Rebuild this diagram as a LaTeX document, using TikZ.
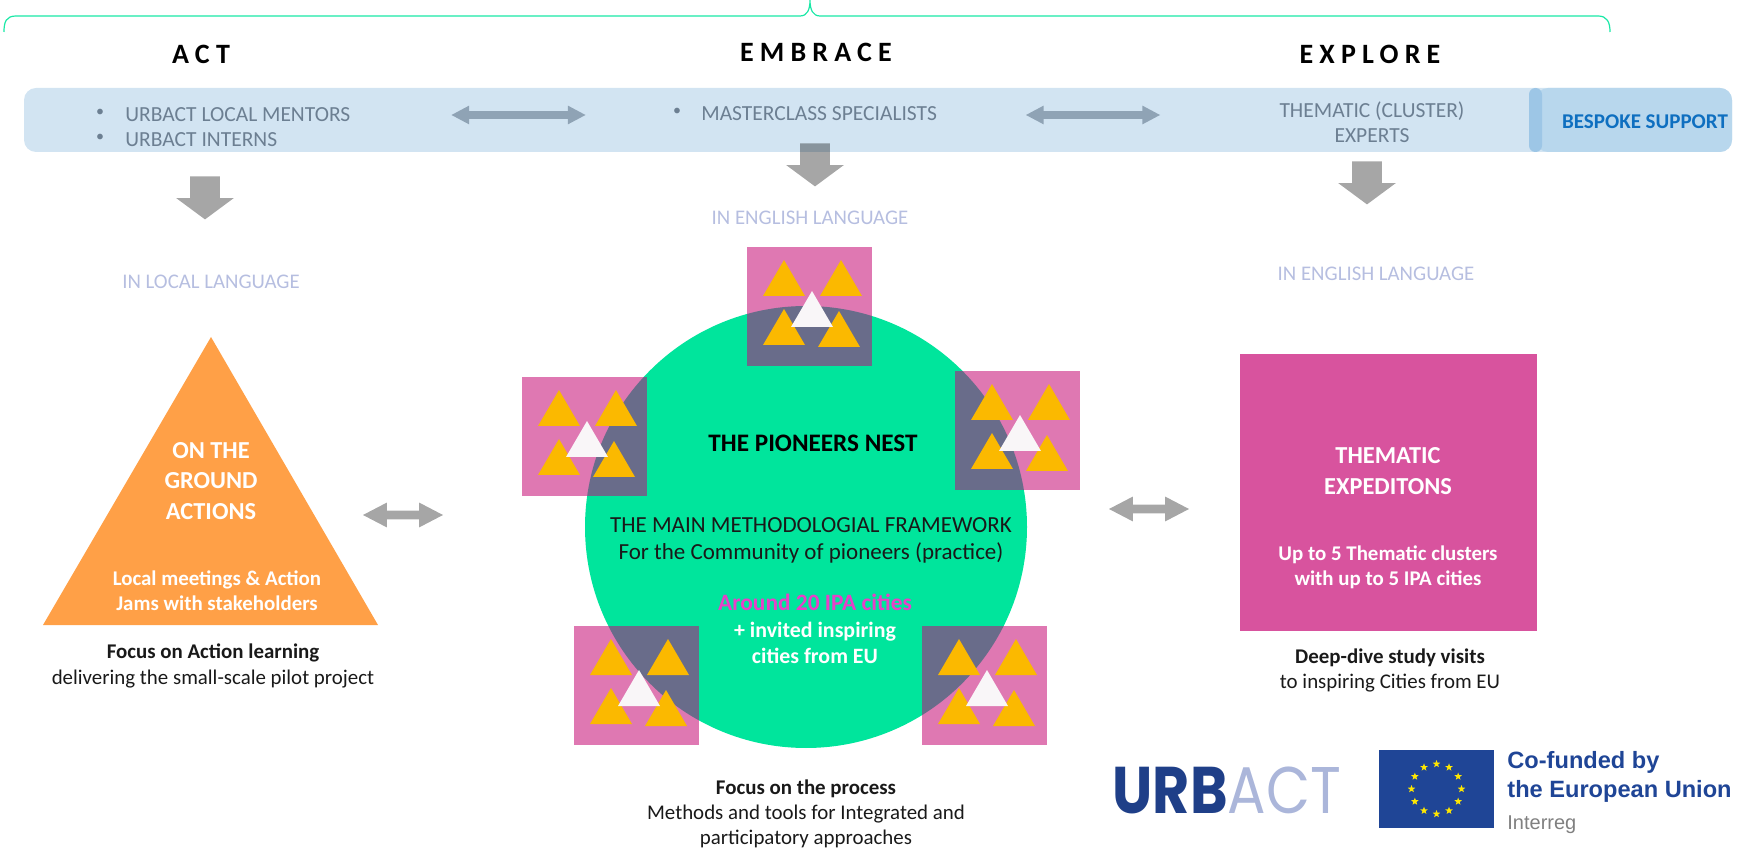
\documentclass[tikz,border=0pt]{standalone}
\usepackage{fontspec}
\setmainfont{Carlito}
\newfontfamily\spacedfont[LetterSpace=22]{Carlito}
\newfontfamily\logofont{Poppins}
\newfontfamily\eufont{Liberation Sans}
\usetikzlibrary{shapes.arrows,shapes.geometric}
\definecolor{barblue}{HTML}{D2E4F2}
\definecolor{bespokeblue}{HTML}{B8D7ED}
\definecolor{bespokeedge}{HTML}{9DC6E6}
\definecolor{bespoketext}{HTML}{0E6FC0}
\definecolor{bartext}{HTML}{6C7F92}
\definecolor{bararrowcol}{HTML}{8FA3B5}
\definecolor{langtext}{HTML}{B6BEE0}
\definecolor{nestgreen}{HTML}{00E59C}
\definecolor{squarepink}{HTML}{DF78B2}
\definecolor{squaredark}{HTML}{696C8A}
\definecolor{triangold}{HTML}{FBB900}
\definecolor{triwhite}{HTML}{F9F6F8}
\definecolor{actorange}{HTML}{FFA047}
\definecolor{expedpink}{HTML}{D8539E}
\definecolor{aroundpink}{HTML}{E83FC8}
\definecolor{urbdark}{HTML}{1F3F88}
\definecolor{urblight}{HTML}{ABB6DA}
\definecolor{eublue}{HTML}{1F4596}
\begin{document}
\begin{tikzpicture}[x=0.5pt,y=-0.5pt,
	heading/.style={font=\spacedfont\bfseries\fontsize{14}{16}\selectfont},
	barlabel/.style={text=bartext,inner sep=0pt,font=\fontsize{10.75}{12.5}\selectfont,align=center},
	langlabel/.style={text=langtext,font=\fontsize{10.4}{12}\selectfont},
	caption/.style={font=\fontsize{10.45}{12.6}\selectfont,align=center,text=black!90},
	whitelabel/.style={text=white,font=\bfseries\fontsize{12.2}{15.2}\selectfont,align=center},
	whitebold/.style={text=white,font=\bfseries\fontsize{10.45}{12.7}\selectfont,align=center},
	bararrow/.style={shape=double arrow,fill=bararrowcol,inner xsep=0pt,inner ysep=1.75pt,minimum width=9pt,minimum height=67pt,double arrow head extend=2.75pt,double arrow tip angle=56},
	sidearrow/.style={shape=double arrow,fill=gray!70,inner xsep=0pt,inner ysep=2pt,minimum width=12pt,minimum height=40pt,double arrow head extend=4pt,double arrow tip angle=55},
	downarrow/.style={shape=single arrow,shape border rotate=270,anchor=tail,fill=black,fill opacity=0.35,inner xsep=7.25pt,inner ysep=0pt,minimum width=28.5pt,minimum height=21.5pt,single arrow head extend=7pt,single arrow tip angle=107},
	eustar/.style={shape=star,star points=5,star point ratio=2.4,fill=yellow!90!orange,inner sep=0pt,minimum size=4pt}]
	\useasboundingbox (0,0) rectangle (1739,849);
	\draw[nestgreen!90!white,line width=0.6pt] (4,32) .. controls (4,22) and (6,16) .. (16,16) -- (800,16) .. controls (807,16) and (810,10) .. (810,0) .. controls (810,10) and (813,16) .. (820,16) -- (1598,16) .. controls (1607,16) and (1610,22) .. (1610,32);
	\node[heading] (act) at (201,54) {ACT};
	\node[heading] (embrace) at (816,52) {EMBRACE};
	\node[heading] (explore) at (1370,54) {EXPLORE};

	\fill[barblue,rounded corners=6pt] (24,88) rectangle (1732,152);
	\fill[bespokeblue,rounded corners=6pt] (1536,88) rectangle (1732,152);
	\fill[bespokeedge,rounded corners=3.2pt] (1529,88) rectangle (1542,152);
	\node[barlabel,font=\fontsize{8}{10}\selectfont] (bullet1) at (100,113) {•};
	\node[barlabel,font=\fontsize{8}{10}\selectfont] (bullet2) at (100,138) {•};
	\node[barlabel,anchor=west,align=left] (mentors) at (125,127.5) {URBACT LOCAL MENTORS\\URBACT INTERNS};
	\node[barlabel,font=\fontsize{8}{10}\selectfont] (bullet3) at (677,112) {•};
	\node[barlabel,anchor=west] (masterclass) at (701,114) {MASTERCLASS SPECIALISTS};
	\node[barlabel] (experts) at (1372,122.5) {THEMATIC (CLUSTER)\\EXPERTS};
	\node[barlabel,text=bespoketext,font=\bfseries\fontsize{10.5}{12}\selectfont] (bespoke) at (1645,122) {BESPOKE SUPPORT};
	\node[bararrow] (arrow1) at (518.5,115) {};
	\node[bararrow] (arrow2) at (1093,115) {};

	\node[downarrow] (down1) at (205,176) {};
	\node[downarrow] (down2) at (815,143) {};
	\node[downarrow] (down3) at (1367,161) {};
	\node[langlabel] (lang1) at (211,282) {IN LOCAL LANGUAGE};
	\node[langlabel] (lang2) at (810,218) {IN ENGLISH LANGUAGE};
	\node[langlabel] (lang3) at (1376,274) {IN ENGLISH LANGUAGE};

	\fill[nestgreen] (806,527) circle [radius=221];
	\foreach \sx/\sy in {747/247,522/377,955/371,574/626,922/626} {
		\fill[squarepink] (\sx,\sy) rectangle +(125,119);
		\begin{scope}
			\clip (806,527) circle [radius=221];
			\fill[squaredark] (\sx,\sy) rectangle +(125,119);
		\end{scope}
		\begin{scope}[shift={(\sx,\sy)}]
			\foreach \tx/\ty in {16/13,73/13,16/62,71/64}
				\fill[triangold] (\tx+21,\ty) -- (\tx+42,\ty+36) -- (\tx,\ty+36) -- cycle;
			\fill[triwhite] (65,44) -- (86,80) -- (44,80) -- cycle;
		\end{scope}
	}
	\node[font=\bfseries\fontsize{12.6}{14}\selectfont] (nesttitle) at (813,443) {THE PIONEERS NEST};
	\node[font=\fontsize{11.5}{13.5}\selectfont,align=center,text=black!90] (framework) at (811,540.5) {THE MAIN METHODOLOGIAL FRAMEWORK\\For the Community of pioneers (practice)};
	\node[text=aroundpink,font=\bfseries\fontsize{11.7}{14}\selectfont] (around) at (815,602) {Around 20 IPA cities};
	\node[whitebold,font=\bfseries\fontsize{10.95}{13}\selectfont] (invited) at (815,643) {+ invited inspiring\\cities from EU};
	\node[caption] (process) at (806,814) {\textbf{Focus on the process}\\Methods and tools for Integrated and\\participatory approaches};

	\fill[actorange] (211,337) -- (378,625) -- (43,625) -- cycle;
	\node[whitelabel] (ground) at (211,481) {ON THE\\GROUND\\ACTIONS};
	\node[whitebold] (jams) at (217,590.5) {Local meetings \& Action\\Jams with stakeholders};
	\node[caption] (actfocus) at (213,666) {\textbf{Focus on Action learning}\\delivering the small-scale pilot project};
	\node[sidearrow] (arrow3) at (403,515) {};
	\node[sidearrow] (arrow4) at (1149,509) {};

	\fill[expedpink] (1240,354) rectangle (1537,631);
	\node[whitelabel] (thematic) at (1388,471) {THEMATIC\\EXPEDITONS};
	\node[whitebold] (clusters) at (1388,567) {Up to 5 Thematic clusters\\with up to 5 IPA cities};
	\node[caption] (visits) at (1390,670.5) {\textbf{Deep-dive study visits}\\to inspiring Cities from EU};

	\node[transform shape,xscale=0.865,inner sep=0pt,font=\logofont\fontsize{33}{36}\selectfont] (urbact) at (1227,790) {\textcolor{urbdark}{\bfseries URB}\textcolor{urblight}{ACT}};
	\fill[eublue] (1379,750) rectangle (1494,828);
	\foreach \i in {1,...,12}
		\node[eustar] (star\i) at ({1436.5+25*cos(30*\i)},{789+25*sin(30*\i)}) {};
	\node[anchor=west,inner sep=0pt,text=eublue,font=\eufont\bfseries\fontsize{11.8}{14.5}\selectfont,align=left] (cofunded) at (1507,776.5) {Co-funded by\\the European Union};
	\node[anchor=west,inner sep=0pt,text=black!50,font=\eufont\fontsize{10}{12}\selectfont] (interreg) at (1507,825) {Interreg};
\end{tikzpicture}
\end{document}
